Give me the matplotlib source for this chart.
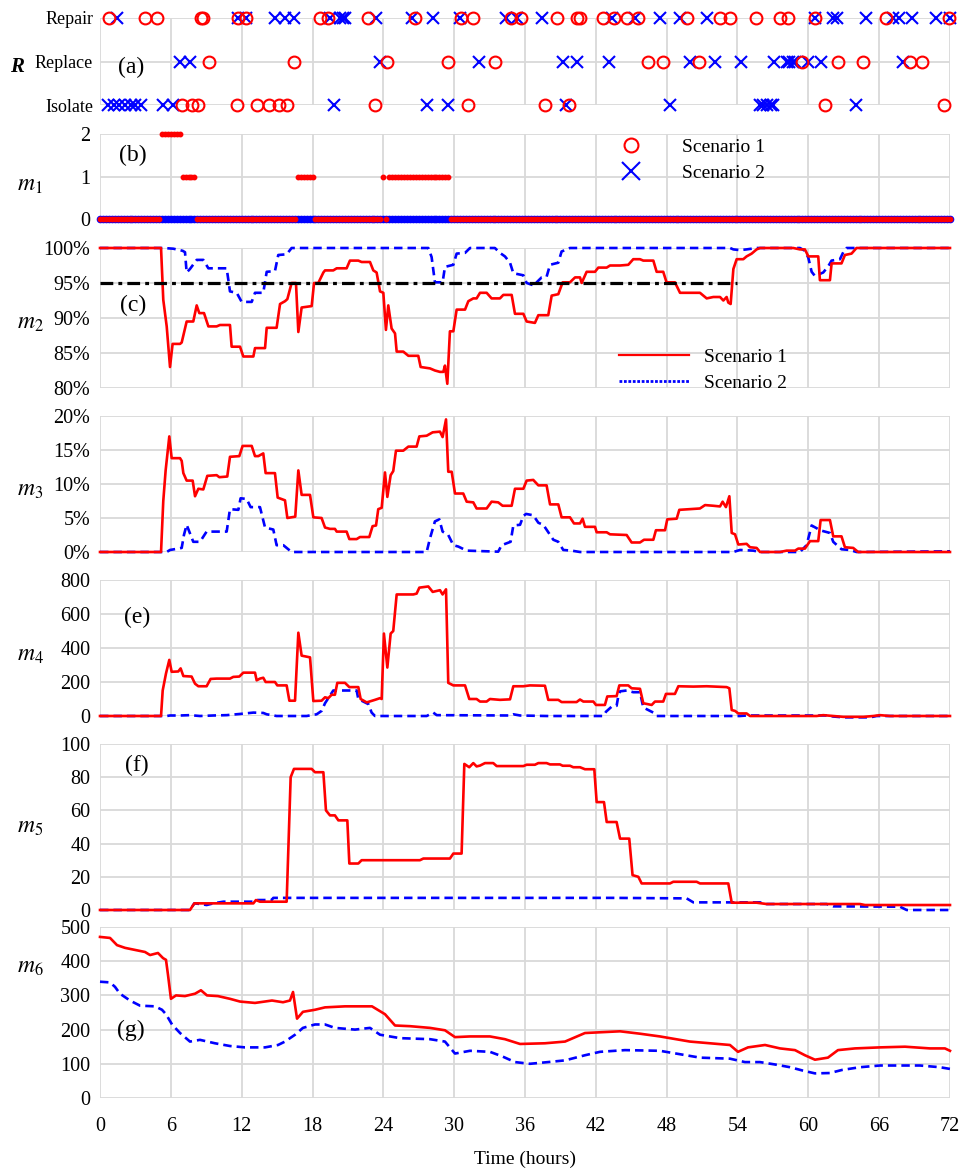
import numpy as np
import matplotlib
matplotlib.use('Agg')
from matplotlib import pyplot as plt
from matplotlib.lines import Line2D
from matplotlib.ticker import FuncFormatter

plt.rcParams['font.family'] = ['Liberation Serif', 'DejaVu Serif']
plt.rcParams['mathtext.fontset'] = 'stix'

RED = '#ff0000'
BLUE = '#0000ff'
GRID = '#d9d9d9'

# ---------------- data (time in hours) ----------------

# (a) repair actions: 0 = Isolate, 1 = Replace, 2 = Repair
s1_repair = [0.79, 3.81, 4.8, 8.55, 8.75, 11.7, 12.4, 18.6, 19.3, 22.7, 26.7, 30.6, 31.6,
             34.8, 35.7, 38.7, 40.4, 40.7, 42.6, 43.5, 44.6, 45.6, 49.7, 52.5, 53.4,
             55.6, 57.6, 58.3, 60.6, 66.6, 71.9]
s2_repair = [1.47, 11.7, 12.4, 14.8, 15.7, 16.4, 19.5, 20.3, 20.6, 20.75, 23.4, 26.4, 28.2,
             30.5, 34.4, 35.3, 37.4, 43.4, 45.3, 47.4, 49.1, 51.4, 60.6, 62.1, 62.4,
             64.9, 67.2, 67.7, 68.8, 70.8, 72.0]
s1_replace = [9.26, 16.4, 24.3, 29.5, 33.5, 46.4, 47.7, 50.7, 59.5, 62.5, 64.6, 68.6, 69.6]
s2_replace = [6.78, 7.6, 23.7, 32.1, 39.2, 40.4, 43.1, 50.0, 52.1, 54.3, 57.1, 58.2, 58.4,
              58.7, 58.9, 60.0, 61.1, 68.0]
s1_isolate = [6.92, 7.76, 8.33, 11.6, 13.3, 14.3, 15.2, 15.8, 23.3, 31.2, 37.7, 39.7, 61.4, 71.5]
s2_isolate = [0.7, 1.2, 1.6, 2.1, 2.6, 3.0, 3.5, 5.36, 6.2, 19.8, 27.7, 29.5, 39.5, 48.3,
              55.9, 56.2, 56.5, 56.8, 57.0, 64.0]
action_labels = ['Isolate', 'Replace', 'Repair']

# (b) m1, step values: (start time, value)
m1_step = 0.25
m1_s1_steps = [(0.0, 0), (5.25, 2), (7.0, 1), (8.25, 0), (16.75, 1), (18.25, 0),
               (24.0, 1), (24.25, 0), (24.5, 1), (29.75, 0)]
m1_s2_steps = [(0.0, 0)]

# (c) m2 in %
m2_s1 = [(0, 100), (5.17, 100), (5.36, 92.6), (5.65, 88.8), (5.93, 83.0), (6.15, 86.3),
         (6.78, 86.3), (6.92, 86.5), (7.34, 89.5), (7.9, 89.5), (8.19, 91.8), (8.41, 90.7),
         (8.81, 90.7), (9.18, 88.8), (9.88, 88.8), (10.16, 89.0), (11.01, 89.0), (11.15, 85.9),
         (11.86, 85.9), (12.14, 84.5), (12.99, 84.5), (13.13, 85.7), (13.98, 85.7), (14.12, 88.6),
         (14.96, 88.6), (15.25, 92.0), (15.67, 92.4), (15.87, 92.7), (16.23, 95.0), (16.6, 95.0),
         (16.8, 88.0), (17.08, 91.5), (17.93, 91.7), (18.13, 95.0), (18.49, 95.0), (18.92, 96.5),
         (19.06, 96.8), (19.76, 96.8), (20.05, 97.1), (20.89, 97.1), (21.17, 98.2), (21.88, 98.2),
         (22.16, 98.0), (22.87, 98.0), (23.15, 96.8), (23.43, 96.5), (23.72, 93.8), (24.0, 93.6),
         (24.22, 88.3), (24.42, 91.8), (24.7, 88.5), (24.99, 87.8), (25.13, 85.2), (25.69, 85.2),
         (26.12, 84.6), (26.96, 84.6), (27.16, 83.0), (27.95, 82.8), (28.37, 82.5), (28.8, 82.3),
         (29.08, 82.3), (29.22, 83.2), (29.42, 80.6), (29.64, 88.1), (29.93, 88.1), (30.21, 91.2),
         (30.92, 91.2), (31.2, 92.4), (31.62, 92.8), (31.9, 92.8), (32.19, 93.6), (32.75, 93.6),
         (33.17, 92.8), (33.88, 92.8), (34.16, 93.3), (34.87, 93.3), (35.15, 90.6), (35.86, 90.6),
         (36.14, 89.5), (36.84, 89.3), (37.13, 90.4), (37.97, 90.4), (38.26, 93.2), (38.82, 93.4),
         (39.19, 95.1), (39.81, 95.1), (40.24, 95.8), (40.66, 95.8), (40.8, 95.0), (41.22, 96.6),
         (41.93, 96.6), (42.21, 97.2), (42.92, 97.2), (43.2, 97.5), (44.05, 97.5), (44.75, 97.6),
         (45.17, 98.4), (45.74, 98.4), (46.02, 98.2), (46.87, 98.2), (47.15, 96.6), (47.71, 96.6),
         (47.99, 95.1), (48.7, 95.1), (49.13, 93.6), (50.82, 93.6), (51.39, 92.8), (51.95, 93.0),
         (52.52, 93.0), (52.8, 92.5), (53.08, 93.0), (53.22, 92.2), (53.42, 92.0), (53.65, 97.0),
         (53.93, 98.4), (54.49, 98.4), (54.77, 98.8), (55.2, 99.2), (55.62, 99.8), (55.91, 100),
         (58.73, 100), (59.29, 99.8), (59.71, 99.8), (60.0, 98.8), (60.84, 98.8), (60.98, 95.4),
         (61.83, 95.4), (61.97, 97.8), (62.81, 97.8), (63.1, 99.0), (63.66, 99.2), (64.08, 100),
         (72, 100)]
m2_s2 = [(0, 100), (5.36, 100), (6.21, 99.9), (7.0, 99.6), (7.2, 99.4), (7.34, 96.5),
         (7.62, 97.0), (8.19, 98.3), (8.75, 98.3), (9.18, 97.1), (10.73, 97.1), (11.01, 93.8),
         (11.58, 93.6), (12.0, 92.3), (12.85, 92.3), (13.13, 93.6), (13.83, 93.6), (14.12, 96.6),
         (14.82, 96.7), (15.1, 99.0), (15.81, 99.1), (16.23, 100), (27.81, 100), (28.09, 98.7),
         (28.37, 95.1), (29.02, 95.1), (29.22, 97.3), (29.93, 97.6), (30.21, 99.2), (30.92, 99.3),
         (31.34, 100), (33.45, 100), (33.88, 99.3), (34.3, 98.8), (34.73, 97.9), (35.01, 96.4),
         (35.86, 96.1), (36.14, 95.0), (36.84, 94.6), (36.99, 95.1), (37.41, 95.8), (37.83, 95.9),
         (38.12, 97.6), (38.82, 97.9), (39.1, 99.5), (39.81, 100), (53.37, 100), (53.65, 99.8),
         (54.21, 99.7), (54.77, 99.8), (55.62, 100), (59.29, 100), (59.71, 99.6), (60.0, 98.6),
         (60.28, 96.6), (60.56, 96.0), (60.98, 96.3), (61.26, 96.5), (61.69, 97.4), (61.97, 98.2),
         (62.68, 98.4), (62.96, 99.4), (63.24, 100), (72, 100)]
m2_threshold = 95
m2_threshold_end = 54

# (d) m3 in %
m3_s1 = [(0, 0), (5.17, 0), (5.36, 7.5), (5.56, 12), (5.87, 17), (6.07, 13.8), (6.78, 13.8),
         (6.92, 13.4), (7.06, 11.6), (7.34, 10.5), (7.85, 10.5), (8.05, 8.2), (8.33, 9.3),
         (8.75, 9.2), (9.09, 11.2), (9.88, 11.3), (10.11, 11.0), (10.78, 11.1), (11.01, 14.0),
         (11.8, 14.1), (12.08, 15.6), (12.85, 15.6), (13.13, 14.1), (13.41, 14.1), (13.83, 14.5),
         (14.03, 11.6), (14.82, 11.6), (15.05, 8.0), (15.67, 7.6), (15.87, 5.0), (16.54, 5.2),
         (16.8, 12.0), (17.08, 8.4), (17.79, 8.4), (18.07, 5.1), (18.77, 5.0), (19.06, 3.6),
         (19.48, 3.4), (19.9, 3.4), (20.05, 3.0), (20.89, 3.0), (21.12, 1.9), (21.74, 1.9),
         (22.02, 2.2), (22.81, 2.2), (23.09, 3.8), (23.38, 3.9), (23.57, 6.3), (23.86, 6.5),
         (24.14, 11.7), (24.34, 8.1), (24.62, 11.3), (24.84, 11.9), (25.07, 14.9), (25.69, 14.9),
         (26.12, 15.5), (26.82, 15.5), (27.05, 17.0), (27.67, 17.1), (28.18, 17.6), (28.8, 17.7),
         (29.02, 16.9), (29.31, 19.5), (29.5, 11.8), (29.79, 11.8), (30.07, 8.6), (30.77, 8.6),
         (31.06, 7.4), (31.62, 7.3), (31.9, 6.4), (32.75, 6.4), (33.17, 7.4), (33.73, 7.3),
         (34.1, 6.8), (34.87, 6.8), (35.15, 9.3), (35.86, 9.3), (36.14, 10.5), (36.7, 10.6),
         (37.13, 9.8), (37.83, 9.8), (38.12, 7.0), (38.82, 7.0), (39.1, 5.1), (39.81, 5.1),
         (40.15, 4.2), (40.66, 4.2), (40.88, 4.9), (41.08, 3.7), (41.93, 3.7), (42.07, 2.9),
         (42.92, 2.9), (43.2, 2.6), (44.61, 2.5), (45.03, 1.4), (45.74, 1.4), (46.08, 1.8),
         (46.87, 1.8), (47.09, 3.2), (47.86, 3.2), (48.05, 4.8), (48.85, 4.9), (49.07, 6.2),
         (49.97, 6.3), (50.82, 6.4), (51.25, 6.9), (51.95, 6.8), (52.52, 6.7), (52.74, 7.4),
         (53.02, 6.6), (53.31, 8.2), (53.51, 2.8), (53.79, 2.6), (54.07, 1.1), (54.77, 1.2),
         (55.06, 0.7), (55.62, 0.6), (55.91, 0), (57.6, 0), (58.16, 0.2), (58.87, 0.2),
         (59.15, 0.5), (59.71, 0.5), (60.14, 1.6), (60.84, 1.6), (61.04, 4.7), (61.83, 4.7),
         (62.11, 2.3), (62.81, 2.3), (63.1, 0.7), (63.8, 0.6), (64.22, 0), (72, 0)]
m3_s2 = [(0, 0), (5.65, 0), (5.93, 0.3), (6.63, 0.5), (6.92, 0.6), (7.11, 2.5), (7.34, 4.0),
         (7.9, 1.5), (8.47, 1.5), (9.03, 3.0), (10.73, 3.0), (11.01, 6.3), (11.72, 6.2),
         (11.91, 7.9), (12.42, 7.8), (12.76, 6.6), (13.55, 6.6), (13.98, 3.6), (14.68, 3.3),
         (14.96, 1.0), (15.53, 1.0), (16.23, 0), (27.67, 0), (27.95, 2.0), (28.37, 4.5),
         (28.74, 4.8), (29.02, 3.0), (29.5, 2.5), (29.93, 1.0), (30.35, 0.8), (31.06, 0.2),
         (33.73, 0.05), (34.02, 1.0), (34.78, 1.5), (35.01, 3.9), (35.58, 4.0), (35.86, 5.3),
         (36.09, 5.6), (36.7, 5.4), (37.13, 4.3), (37.55, 4.0), (38.4, 1.8), (38.82, 1.5),
         (39.24, 0.3), (39.95, 0.2), (40.66, 0), (53.65, 0), (54.21, 0.3), (55.34, 0.2),
         (55.91, 0), (59.29, 0), (59.85, 1.0), (60.28, 3.9), (60.7, 3.5), (60.98, 3.2),
         (61.83, 2.8), (62.11, 1.5), (62.81, 0.4), (63.52, 0.3), (64.08, 0), (72, 0.1)]

# (e) m4
m4_s1 = [(0, 0), (5.17, 0), (5.31, 150), (5.59, 250), (5.87, 330), (6.07, 260), (6.63, 262),
         (6.83, 280), (7.06, 235), (7.76, 232), (8.05, 190), (8.33, 175), (9.03, 175),
         (9.37, 218), (9.88, 220), (11.01, 220), (11.29, 230), (11.8, 232), (12.14, 255),
         (13.13, 255), (13.27, 210), (13.55, 220), (13.83, 225), (14.03, 200), (14.82, 200),
         (15.02, 180), (15.81, 180), (16.04, 90), (16.52, 90), (16.8, 490), (17.08, 355),
         (17.79, 345), (18.07, 88), (18.77, 90), (19.06, 110), (19.34, 105), (19.62, 125),
         (19.9, 125), (20.1, 195), (20.75, 195), (21.12, 170), (21.88, 170), (22.08, 100),
         (22.59, 80), (23.29, 95), (23.72, 105), (23.86, 100), (24.05, 485), (24.34, 285),
         (24.62, 485), (24.84, 500), (25.13, 715), (26.54, 715), (26.82, 720), (27.05, 755),
         (27.81, 762), (28.18, 730), (28.8, 740), (29.02, 715), (29.31, 745), (29.5, 195),
         (29.93, 180), (30.92, 180), (31.28, 100), (31.9, 100), (32.19, 85), (32.75, 85),
         (33.03, 100), (33.88, 95), (34.73, 98), (35.01, 175), (35.86, 175), (36.42, 180),
         (37.69, 178), (37.97, 95), (38.82, 95), (39.1, 82), (40.37, 82), (40.66, 97),
         (40.94, 85), (41.79, 85), (42.01, 65), (42.77, 65), (42.97, 115), (43.76, 117),
         (43.99, 180), (44.75, 180), (45.03, 163), (45.74, 160), (46.02, 75), (46.73, 65),
         (47.01, 85), (47.71, 85), (47.94, 130), (48.7, 130), (48.99, 175), (50.26, 173),
         (51.39, 175), (53.08, 170), (53.31, 163), (53.51, 35), (53.79, 30), (54.07, 15),
         (54.77, 15), (55.06, 0), (60.7, 0), (61.26, 5), (62.11, 0), (62.96, -5), (64.66, -5),
         (65.51, 0), (66.07, 5), (66.92, 0), (72, 0)]
m4_s2 = [(0, 0), (5.65, 0), (5.93, 3), (6.78, 3), (7.62, 5), (8.47, 0), (9.6, 3), (10.73, 5),
         (11.86, 12), (12.99, 20), (13.83, 18), (14.12, 10), (14.96, 0), (17.5, 0), (18.35, 10),
         (18.77, 30), (19.06, 75), (19.76, 150), (21.74, 150), (21.88, 100), (22.3, 85),
         (22.73, 70), (23.01, 20), (23.29, 0), (27.67, 0), (28.23, 20), (28.52, 5), (34.73, 3),
         (35.01, 10), (35.58, 3), (37.83, 0), (42.64, 0), (42.86, 25), (43.34, 55), (43.76, 60),
         (43.9, 115), (44.05, 145), (44.61, 150), (45.17, 140), (45.74, 140), (46.02, 50),
         (46.87, 20), (47.15, 0), (54.21, 0), (54.77, 3), (61.55, 3), (62.11, -3), (62.96, -8),
         (65.22, -8), (65.79, 0), (72, 0)]

# (f) m5
m5_s1 = [(0, 0), (7.62, 0), (7.99, 4), (12.99, 4), (13.21, 6), (13.55, 5), (15.81, 5),
         (16.15, 80), (16.43, 85), (17.93, 85), (18.21, 83), (18.92, 83), (19.14, 60),
         (19.48, 57), (19.9, 57), (20.19, 54), (20.95, 54), (21.12, 28), (21.88, 28),
         (22.16, 30), (27.1, 30), (27.39, 31), (29.64, 31), (29.93, 34), (30.63, 34),
         (30.86, 88), (31.28, 86), (31.62, 88.5), (31.9, 86.5), (32.19, 87), (32.61, 88.5),
         (33.31, 88.5), (33.6, 86.7), (35.86, 86.7), (36.14, 87.5), (36.84, 87.5), (37.13, 88.5),
         (37.83, 88.5), (38.12, 87.7), (38.96, 87.7), (39.19, 86.9), (39.81, 86.9), (40.09, 86.0),
         (40.66, 86.0), (41.08, 84.8), (41.87, 84.8), (42.07, 65), (42.69, 65), (42.92, 53),
         (43.76, 53), (44.05, 43), (44.83, 43), (45.11, 21), (45.6, 20), (45.88, 16),
         (48.28, 16), (48.56, 17), (50.54, 17), (50.82, 16), (53.22, 16), (53.51, 4.4),
         (55.62, 4.4), (56.47, 3.6), (64.38, 3.6), (64.8, 3.0), (72, 3.0)]
m5_s2 = [(0, 0), (7.62, 0), (7.99, 4), (8.6, 3.5), (9.03, 3), (9.6, 4), (10.45, 5), (12.99, 5),
         (13.27, 6), (14.54, 6), (14.68, 7.3), (43.48, 7.3), (49.69, 7.0), (50.26, 4.6),
         (55.91, 4.6), (56.47, 3.6), (61.55, 3.6), (62.11, 2.2), (67.76, 2.0), (68.33, 0),
         (72, 0)]

# (g) m6
m6_s1 = [(0, 471), (0.85, 468), (1.44, 447), (2.12, 439), (2.96, 433), (3.81, 427), (4.24, 418),
         (4.91, 424), (5.34, 409), (5.59, 404), (5.76, 360), (6.01, 290), (6.44, 300), (7.2, 298),
         (8.05, 305), (8.55, 315), (9.06, 300), (9.99, 298), (11.01, 290), (11.86, 282),
         (13.13, 278), (14.57, 285), (15.5, 280), (16.09, 285), (16.35, 310), (16.69, 232),
         (17.19, 252), (18.21, 258), (19.06, 265), (20.75, 268), (23.04, 268), (24.14, 245),
         (24.99, 212), (26.26, 210), (27.95, 205), (29.22, 198), (30.07, 178), (31.34, 180),
         (33.03, 180), (34.3, 172), (35.58, 158), (37.69, 160), (39.39, 165), (41.08, 190),
         (44.05, 195), (45.74, 188), (47.43, 180), (49.97, 165), (53.36, 155), (54.04, 135),
         (54.89, 148), (56.33, 155), (57.6, 145), (58.87, 140), (59.71, 125), (60.56, 112),
         (61.66, 118), (62.51, 140), (63.95, 145), (66.07, 148), (68.19, 150), (70.3, 145),
         (71.57, 145), (72, 138)]
m6_s2 = [(0, 340), (0.85, 338), (1.27, 325), (1.69, 305), (2.54, 285), (3.39, 270), (4.66, 268),
         (5.25, 258), (5.59, 245), (6.1, 215), (6.78, 190), (7.62, 165), (8.47, 170), (9.74, 160),
         (11.01, 152), (12.28, 148), (13.98, 148), (15.08, 155), (15.67, 165), (16.52, 185),
         (17.19, 205), (18.21, 215), (19.06, 215), (19.9, 205), (21.6, 200), (22.87, 205),
         (23.72, 185), (25.41, 175), (27.95, 172), (29.22, 165), (30.07, 130), (31.34, 138),
         (33.03, 135), (34.05, 122), (35.15, 105), (36.42, 100), (37.95, 105), (39.39, 110),
         (41.08, 125), (42.35, 135), (44.47, 140), (47.43, 138), (49.13, 128), (50.82, 118),
         (53.36, 115), (54.63, 105), (55.9, 105), (57.18, 98), (58.45, 90), (59.55, 80),
         (60.56, 72), (61.83, 73), (62.85, 82), (64.37, 90), (66.07, 95), (69.46, 95),
         (71.15, 90), (72, 85)]

x_ticks = list(range(0, 73, 6))


def split(pairs):
    return [p[0] for p in pairs], [p[1] for p in pairs]


def expand_steps(steps, dt, end=72.0):
    # turn (start, value) steps into one value per time step
    t = np.arange(0, end + dt / 2, dt)
    starts = np.array([s[0] for s in steps])
    vals = np.array([s[1] for s in steps])
    idx = np.searchsorted(starts, t + 1e-9, side='right') - 1
    return t, vals[idx]


fig = plt.figure(figsize=(9.62, 11.71), dpi=100)
W, H = 962.0, 1171.0
rows = [(18, 105), (134, 219), (248, 388), (416, 552), (580, 716), (744, 910), (927, 1098)]
axes = []
for top, bot in rows:
    ax = fig.add_axes([100 / W, 1 - bot / H, 850 / W, (bot - top) / H])
    ax.set_xlim(0, 72)
    ax.set_xticks(x_ticks)
    ax.grid(True, color=GRID, linewidth=1.3)
    ax.set_axisbelow(True)
    for sp in ax.spines.values():
        sp.set_visible(False)
    ax.tick_params(length=0, labelsize=14.5, pad=7, labelbottom=False)
    axes.append(ax)
ax_a, ax_b, ax_c, ax_d, ax_e, ax_f, ax_g = axes

# (a) repair actions
circle_kw = dict(marker='o', ms=8.5, mfc='none', mec=RED, mew=1.5, ls='none', clip_on=False)
cross_kw = dict(marker='x', ms=8.5, mec=BLUE, mew=1.5, ls='none', clip_on=False)
for lvl, (s1, s2) in enumerate([(s1_isolate, s2_isolate), (s1_replace, s2_replace),
                                (s1_repair, s2_repair)]):
    ax_a.plot(s2, [lvl] * len(s2), zorder=3, **cross_kw)
    ax_a.plot(s1, [lvl] * len(s1), zorder=4, **circle_kw)
ax_a.set_ylim(0, 2)
ax_a.set_yticks([0, 1, 2])
ax_a.set_yticklabels(action_labels)
ax_a.tick_params(axis='y', labelsize=13, pad=5)

# (b) m1
t1, v1 = expand_steps(m1_s1_steps, m1_step)
t2, v2 = expand_steps(m1_s2_steps, m1_step)
ax_b.plot(t2, v2, ls='none', marker='o', ms=4.5, color=BLUE, mec=BLUE, clip_on=False, zorder=3)
ax_b.plot(t1, v1, ls='none', marker='o', ms=3.2, color=RED, mec=RED, clip_on=False, zorder=4)
ax_b.set_ylim(0, 2)
ax_b.set_yticks([0, 1, 2])
leg_b = [Line2D([], [], ls='none', marker='o', ms=10, mfc='none', mec=RED, mew=1.5),
         Line2D([], [], ls='none', marker='x', ms=13, mec=BLUE, mew=1.5)]
ax_b.legend(leg_b, ['Scenario 1', 'Scenario 2'], loc='center',
            bbox_to_anchor=(688 / W, 1 - 160 / H), bbox_transform=fig.transFigure,
            frameon=False, fontsize=14, handletextpad=1.6, labelspacing=0.45,
            borderpad=0, handlelength=2)

red_kw = dict(color=RED, lw=1.9, clip_on=False, zorder=4)
blue_kw = dict(color=BLUE, lw=1.9, ls=(0, (3.2, 1.9)), clip_on=False, zorder=3)

# (c) m2
t, v = split(m2_s2)
ax_c.plot(t, v, **blue_kw)
t, v = split(m2_s1)
ax_c.plot(t, v, **red_kw)
ax_c.plot([0, m2_threshold_end], [m2_threshold, m2_threshold], color='black', lw=2.3,
          ls=(0, (4, 1.6, 1.2, 1.6)), zorder=5)
ax_c.set_ylim(80, 100)
ax_c.set_yticks([80, 85, 90, 95, 100])
ax_c.yaxis.set_major_formatter(FuncFormatter(lambda val, pos: f'{val:.0f}%'))
leg_c = [Line2D([], [], color=RED, lw=1.6),
         Line2D([], [], color=BLUE, lw=2, ls=(0, (1, 0.6)))]
ax_c.legend(leg_c, ['Scenario 1', 'Scenario 2'], loc='center',
            bbox_to_anchor=(703 / W, 1 - 370 / H), bbox_transform=fig.transFigure,
            frameon=False, fontsize=14, handlelength=3.6, handletextpad=0.8,
            labelspacing=0.4, borderpad=0)

# (d) m3
t, v = split(m3_s2)
ax_d.plot(t, v, **blue_kw)
t, v = split(m3_s1)
ax_d.plot(t, v, **red_kw)
ax_d.set_ylim(0, 20)
ax_d.set_yticks([0, 5, 10, 15, 20])
ax_d.yaxis.set_major_formatter(FuncFormatter(lambda val, pos: f'{val:.0f}%'))

# (e) m4
t, v = split(m4_s2)
ax_e.plot(t, v, **blue_kw)
t, v = split(m4_s1)
ax_e.plot(t, v, **red_kw)
ax_e.set_ylim(0, 800)
ax_e.set_yticks([0, 200, 400, 600, 800])

# (f) m5
t, v = split(m5_s2)
ax_f.plot(t, v, **blue_kw)
t, v = split(m5_s1)
ax_f.plot(t, v, **red_kw)
ax_f.set_ylim(0, 100)
ax_f.set_yticks([0, 20, 40, 60, 80, 100])

# (g) m6
t, v = split(m6_s2)
ax_g.plot(t, v, **blue_kw)
t, v = split(m6_s1)
ax_g.plot(t, v, **red_kw)
ax_g.set_ylim(0, 500)
ax_g.set_yticks([0, 100, 200, 300, 400, 500])
ax_g.tick_params(axis='x', labelbottom=True, pad=14)
ax_g.set_xlabel('Time (hours)', fontsize=14, labelpad=10)

# panel letters
for label, (px, py) in [('(a)', (131, 67)), ('(b)', (133, 155)), ('(c)', (133, 305)),
                        ('(e)', (137, 617)), ('(f)', (137, 765)), ('(g)', (131, 1030))]:
    fig.text(px / W, 1 - py / H, label, fontsize=17, ha='center', va='center')

# y labels
fig.text(17 / W, 1 - 67 / H, 'R', fontsize=15, fontweight='bold', fontstyle='italic',
         ha='center', va='center')
for label, (px, py) in [('$m_1$', (30, 185)), ('$m_2$', (30, 323)), ('$m_3$', (30, 490)),
                        ('$m_4$', (30, 655)), ('$m_5$', (30, 827)), ('$m_6$', (30, 968))]:
    fig.text(px / W, 1 - py / H, label, fontsize=17, ha='center', va='center')

fig.savefig('out.png', dpi=100)
